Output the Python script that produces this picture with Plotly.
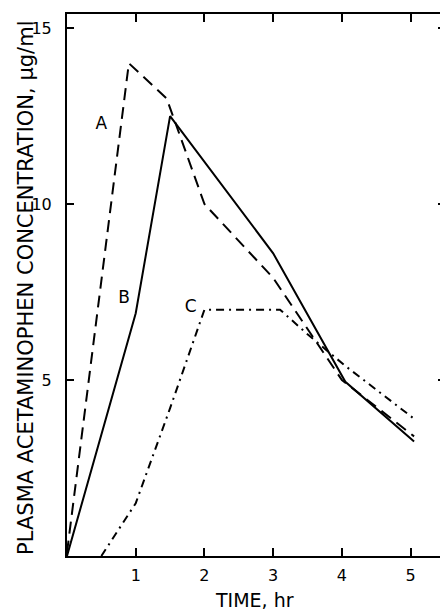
import plotly.graph_objects as go

# Curve A (dashed)
time_a = [0.0, 0.9, 1.45, 2.0, 3.0, 4.0, 5.05]
conc_a = [0.1, 14.0, 13.0, 10.0, 7.9, 5.0, 3.4]
# Curve B (solid)
time_b = [0.0, 1.0, 1.5, 3.0, 4.05, 5.05]
conc_b = [0.0, 6.9, 12.5, 8.6, 4.95, 3.25]
# Curve C (dash-dot)
time_c = [0.5, 1.0, 1.5, 2.0, 3.1, 3.5, 4.05, 5.05]
conc_c = [0.0, 1.5, 4.2, 7.0, 7.0, 6.3, 5.4, 3.9]

x_ticks = [1, 2, 3, 4, 5]
y_ticks = [5, 10, 15]
curve_labels = ["A", "B", "C"]
label_x = [0.5, 0.83, 1.8]
label_y = [12.25, 7.3, 7.05]

FONT = "DejaVu Sans"

fig = go.Figure()
fig.add_trace(go.Scatter(x=time_a, y=conc_a, mode="lines",
                         line=dict(color="black", width=2, dash="12px,7px")))
fig.add_trace(go.Scatter(x=time_b, y=conc_b, mode="lines",
                         line=dict(color="black", width=2)))
fig.add_trace(go.Scatter(x=time_c, y=conc_c, mode="lines",
                         line=dict(color="black", width=2, dash="8px,5px,2px,5px")))
fig.add_trace(go.Scatter(x=label_x, y=label_y, mode="text", text=curve_labels,
                         textfont=dict(family=FONT, size=17, color="black")))

fig.update_layout(
    width=440, height=604,
    margin=dict(l=59, r=1, t=6, b=56),
    paper_bgcolor="white", plot_bgcolor="white",
    showlegend=False,
    font=dict(family=FONT, color="black"),
    xaxis=dict(range=[0, 5.5], tickvals=x_ticks, ticktext=[str(v) for v in x_ticks],
               ticks="inside", ticklen=8, tickwidth=2, tickcolor="black",
               showline=True, linecolor="black", linewidth=2, mirror="ticks",
               showgrid=False, zeroline=False,
               tickfont=dict(family=FONT, size=16), ticklabelstandoff=4),
    yaxis=dict(range=[0, 15.4], tickvals=y_ticks, ticktext=[str(v) for v in y_ticks],
               ticks="inside", ticklen=7, tickwidth=2, tickcolor="black",
               showline=True, linecolor="black", linewidth=2, mirror="ticks",
               showgrid=False, zeroline=False,
               tickfont=dict(family=FONT, size=16), ticklabelstandoff=10),
    annotations=[
        dict(text="TIME, hr", xref="paper", yref="paper", x=0.495, y=-0.081,
             xanchor="center", yanchor="middle", showarrow=False,
             font=dict(family=FONT, size=19, color="black")),
        dict(text="PLASMA ACETAMINOPHEN CONCENTRATION, \u03bcg/ml", xref="paper", yref="paper",
             x=-0.108, y=0.495, xanchor="center", yanchor="middle", textangle=-90,
             showarrow=False, font=dict(family=FONT, size=21, color="black")),
    ],
)

fig.write_html("out.html")
